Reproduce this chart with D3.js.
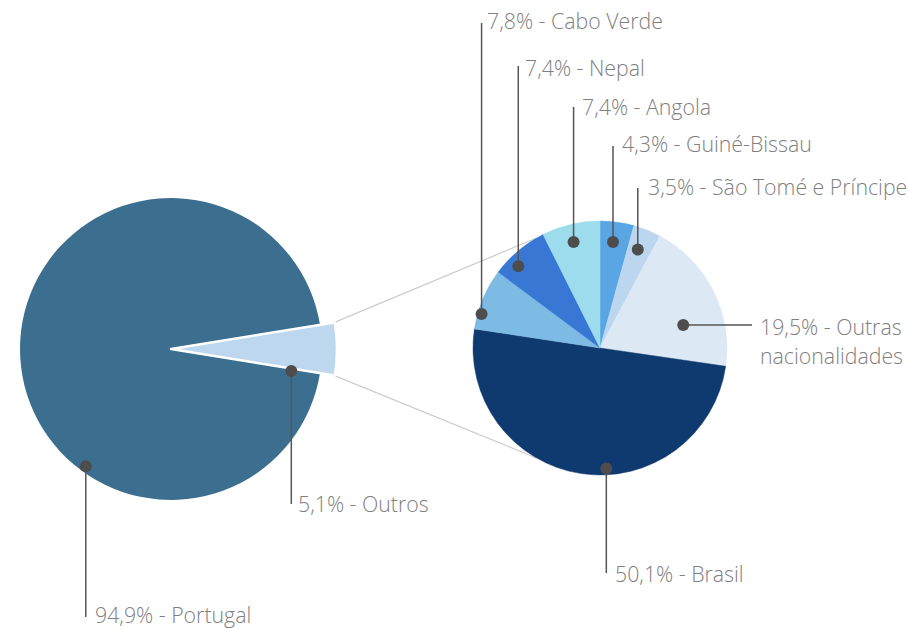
<!DOCTYPE html>
<html lang="pt">
<head>
<meta charset="utf-8">
<script src="https://d3js.org/d3.v7.min.js"></script>
<style>
  body { margin: 0; background: #fff; }
  svg text { font-family: "Open Sans", sans-serif; font-weight: 300; fill: #808080; }
</style>
</head>
<body>
<script>
// data
var mainNames = ["Outros", "Portugal"];
var mainValues = [5.1, 94.9];
var mainColors = ["#bdd7ee", "#3c6f8f"];

var subNames = ["Guiné-Bissau", "São Tomé e Príncipe", "Outras nacionalidades", "Brasil", "Cabo Verde", "Nepal", "Angola"];
var subValues = [4.3, 3.5, 19.5, 50.1, 7.8, 7.4, 7.4];
var subColors = ["#5aa5e3", "#bcd6ef", "#dce9f5", "#0f3a6f", "#7dbbe4", "#3878d4", "#9cdcec"];

var width = 908, height = 629;
var fmt = function(v) { return d3.format(".1f")(v).replace(".", ",") + "%"; };

var svg = d3.select("body").append("svg")
  .attr("width", width)
  .attr("height", height);

var toRad = Math.PI / 180;
function polar(cx, cy, r, deg) {
  return [cx + r * Math.sin(deg * toRad), cy - r * Math.cos(deg * toRad)];
}

// left pie
var L = { cx: 171, cy: 349, r: 151, rOut: 166 };
var mainShare = mainValues[0] / d3.sum(mainValues);
var mainPie = d3.pie().sort(null)
  .startAngle(Math.PI / 2 - mainShare * Math.PI)
  .endAngle(Math.PI / 2 - mainShare * Math.PI + 2 * Math.PI);
var mainArcs = mainPie(mainValues);

// right pie
var R = { cx: 600, cy: 348, r: 127 };
var subPie = d3.pie().sort(null);
var subArcs = subPie(subValues);

// connector lines from the exploded slice to the second pie
var o = mainArcs[0];
var conn = [[o.startAngle, 330], [o.endAngle, 210]];
svg.append("g").selectAll("line")
  .data(conn).enter().append("line")
  .attr("x1", function(d) { return polar(L.cx, L.cy, L.rOut - 1, d[0] / toRad)[0]; })
  .attr("y1", function(d) { return polar(L.cx, L.cy, L.rOut - 1, d[0] / toRad)[1]; })
  .attr("x2", function(d) { return polar(R.cx, R.cy, R.r, d[1])[0]; })
  .attr("y2", function(d) { return polar(R.cx, R.cy, R.r, d[1])[1]; })
  .attr("stroke", "#cccccc")
  .attr("stroke-width", 1.2);

var gL = svg.append("g").attr("transform", "translate(" + L.cx + "," + L.cy + ")");
gL.selectAll("path")
  .data(mainArcs.slice().reverse())
  .enter().append("path")
  .attr("d", function(d) {
    return d3.arc().innerRadius(0).outerRadius(d.index === 0 ? L.rOut : L.r)(d);
  })
  .attr("fill", function(d) { return mainColors[d.index]; })
  .attr("stroke", function(d) { return d.index === 0 ? "#fff" : "none"; })
  .attr("stroke-width", 2.5)
  .attr("stroke-linejoin", "round");

var gR = svg.append("g").attr("transform", "translate(" + R.cx + "," + R.cy + ")");
gR.selectAll("path")
  .data(subArcs)
  .enter().append("path")
  .attr("d", d3.arc().innerRadius(0).outerRadius(R.r))
  .attr("fill", function(d, i) { return subColors[i]; })
  .attr("stroke", function(d, i) { return subColors[i]; })
  .attr("stroke-width", 0.5);

// label layout: dot angle (deg), dot radius (fraction), label end point
var labels = [
  { pie: L, name: mainNames[1], value: mainValues[1], ang: 216, rf: 0.96, dir: "down", end: 617, tx: 95, ty: 623 },
  { pie: L, name: mainNames[0], value: mainValues[0], ang: 100.4, rf: 0.81, dir: "down", end: 504, tx: 298, ty: 512 },
  { pie: R, name: subNames[4], value: subValues[4], ang: 286, rf: 0.97, dir: "up", end: 23, tx: 487, ty: 29 },
  { pie: R, name: subNames[5], value: subValues[5], ang: 315, rf: 0.91, dir: "up", end: 66, tx: 525, ty: 76 },
  { pie: R, name: subNames[6], value: subValues[6], ang: 346, rf: 0.86, dir: "up", end: 107, tx: 582, ty: 115 },
  { pie: R, name: subNames[0], value: subValues[0], ang: 7, rf: 0.84, dir: "up", end: 146, tx: 622, ty: 152 },
  { pie: R, name: subNames[1], value: subValues[1], ang: 21, rf: 0.83, dir: "up", end: 188, tx: 648, ty: 195 },
  { pie: R, name: subNames[2], value: subValues[2], ang: 74.5, rf: 0.68, dir: "right", end: 752, tx: 760, ty: 335 },
  { pie: R, name: subNames[3], value: subValues[3], ang: 177, rf: 0.95, dir: "down", end: 573, tx: 615, ty: 582 }
];

labels.forEach(function(l) {
  var p = polar(l.pie.cx, l.pie.cy, l.pie.r * l.rf, l.ang);
  var x2 = l.dir === "right" ? l.end : p[0];
  var y2 = l.dir === "right" ? p[1] : l.end;
  svg.append("line")
    .attr("x1", p[0]).attr("y1", p[1])
    .attr("x2", x2).attr("y2", y2)
    .attr("stroke", "#555")
    .attr("stroke-width", 1.5);
  svg.append("circle")
    .attr("cx", p[0]).attr("cy", p[1])
    .attr("r", 6)
    .attr("fill", "#4d4d4d");
  var t = svg.append("text")
    .attr("x", l.tx).attr("y", l.ty)
    .attr("font-size", 21.3);
  if (l.name === "Outras nacionalidades") {
    t.append("tspan").attr("x", l.tx).text(fmt(l.value) + " - Outras");
    t.append("tspan").attr("x", l.tx).attr("dy", 29).text("nacionalidades");
  } else {
    t.text(fmt(l.value) + " - " + l.name);
  }
});
</script>
</body>
</html>
